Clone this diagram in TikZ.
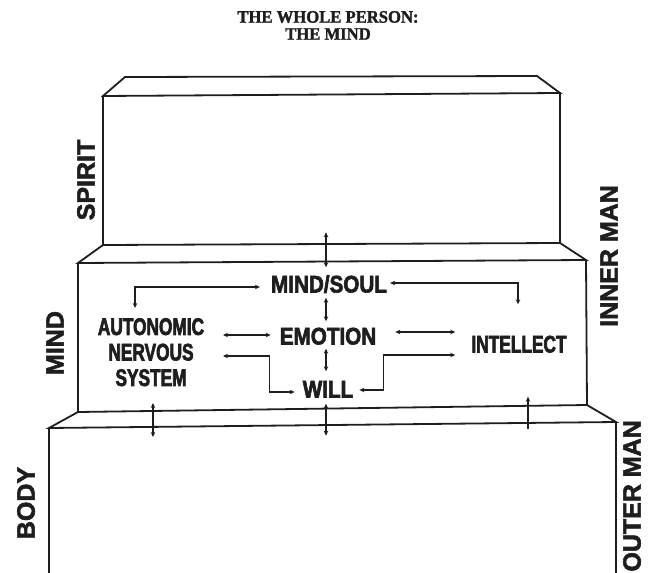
\documentclass[tikz,border=0pt]{standalone}
\usepackage{fontspec}
\usetikzlibrary{arrows.meta}
\newfontfamily\labfont[FakeStretch=0.72,FakeBold=2.6]{Liberation Sans}
\newfontfamily\midfont[FakeStretch=0.86,FakeBold=2.6]{Liberation Sans}
\newfontfamily\sidefont[FakeBold=2.2]{Liberation Sans}
\newfontfamily\titlefont[FakeStretch=0.95,FakeBold=1.6]{Liberation Serif}
\definecolor{ink}{HTML}{1E1E1E}
\tikzset{
  box/.style={draw=ink, line width=1.8pt, line join=miter},
  tip/.tip={Stealth[length=5pt,width=4.5pt]},
  dbl/.style={draw=ink, line width=1.3pt, tip-tip},
  single/.style={draw=ink, line width=1.3pt, -tip},
  lab/.style={inner sep=0pt, text height=17pt, text depth=0pt, text=ink,
    font=\labfont\bfseries\fontsize{24}{26}\selectfont},
  midlab/.style={lab, font=\midfont\bfseries\fontsize{24}{26}\selectfont},
  side/.style={inner sep=0pt, rotate=90, text=ink,
    font=\sidefont\bfseries\fontsize{25}{26}\selectfont},
  title/.style={inner sep=0pt, text=ink, font=\titlefont\bfseries\fontsize{17.5}{19}\selectfont}
}
\begin{document}
\begin{tikzpicture}[x=1pt,y=-1pt]
\useasboundingbox (0,0) rectangle (649,573);
\fill[white] (0,0) rectangle (649,573);
\clip (0,0) rectangle (649,573);

% title
\node[title] (t1) at (328,17) {THE WHOLE PERSON:};
\node[title] (t2) at (328,34) {THE MIND};

% spirit block
\draw[box] (103,96) -- (125,77) -- (537,76) -- (560,93) -- cycle;
\draw[box] (103,96) -- (103,245) -- (560,243) -- (560,93);
% mind block
\draw[box] (103,245) -- (78,263) -- (586,260) -- (560,243);
\draw[box] (78,263) -- (78,412) -- (587,405) -- (586,260);
% body block
\draw[box] (78,412) -- (49,428) -- (616,422) -- (587,405);
\draw[box] (49,428) -- (49,580);
\draw[box] (616,422) -- (616,580);

% side labels
\node[side] (spirit) at (86,180) {SPIRIT};
\node[side] (mindl) at (55,343) {MIND};
\node[side] (body) at (26,503) {BODY};
\node[side] (inner) at (609,256) {INNER MAN};
\node[side, anchor=east] (outer) at (632,420) {OUTER MAN};

% inner labels
\node[midlab] (ms) at (329,284) {MIND/SOUL};
\node[midlab] (emo) at (328,336) {EMOTION};
\node[midlab] (will) at (328,389) {WILL};
\node[lab] (intel) at (519,344) {INTELLECT};
\node[inner sep=0pt, text=ink, anchor=north, align=center,
  font=\labfont\bfseries\fontsize{24}{25.5}\selectfont] (ans) at (151,318)
  {AUTONOMIC\\NERVOUS\\SYSTEM};

% connectors
\draw[dbl] ([shift={(-3,-43)}]ms.north) -- ([shift={(-3,-8)}]ms.north);
\draw[dbl] ([shift={(-3,5)}]ms.south) -- ([shift={(-2,-6)}]emo.north);
\draw[dbl] ([shift={(-2,4)}]emo.south) -- ([shift={(-2,-9)}]will.north);
\draw[dbl] ([shift={(-2,6)}]will.south) -- ([shift={(-2,38)}]will.south);
\draw[dbl] ([shift={(2,85)}]ans.north) -- ([shift={(2,119)}]ans.north);
\draw[single] ([shift={(9,76)}]intel.south) -- ([shift={(9,44)}]intel.south);

\draw[dbl] ([shift={(-11,3)}]ms.west) -| ([shift={(-16,-10)}]ans.north);
\draw[dbl] ([shift={(3,-1)}]ms.east) -| ([shift={(-1,-31)}]intel.north);
\draw[dbl] ([shift={(72,17)}]ans.north) -- ([shift={(-9,-1)}]emo.west);
\draw[dbl] ([shift={(19,-4)}]emo.east) -- ([shift={(-16,-12)}]intel.west);
\draw[dbl] ([shift={(72,38)}]ans.north) -| ([shift={(-33,3)}]will.west) -- ([shift={(-8,3)}]will.west);
\draw[dbl] ([shift={(6,1)}]will.east) -- ([shift={(30,1)}]will.east) |- ([shift={(-16,11)}]intel.west);
\end{tikzpicture}
\end{document}
